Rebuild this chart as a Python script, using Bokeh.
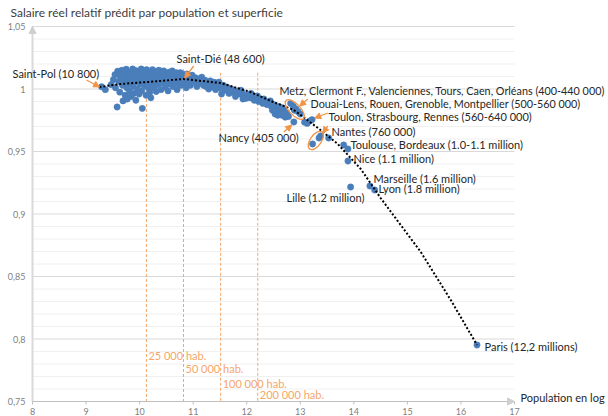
import numpy as np
from bokeh.plotting import figure
from bokeh.models import Arrow, NormalHead, Range1d
from bokeh.core.properties import value
from bokeh.embed import file_html
from bokeh.resources import INLINE

# ---------------- data ----------------
small_x = [9.29, 9.36, 9.47, 9.51, 9.54, 9.55, 9.58, 9.59, 9.61, 9.63, 9.64, 9.67, 9.68,
           9.69, 9.71, 9.72, 9.73, 9.75, 9.76, 9.77, 9.79, 9.80, 9.81, 9.83, 9.84, 9.85,
           9.87, 9.88, 9.89, 9.91, 9.92, 9.93, 9.95, 9.96, 9.97, 9.99, 10.00, 10.01, 10.03,
           10.04, 10.05, 10.06, 10.08, 10.09, 10.11, 10.12, 10.13, 10.15, 10.16, 10.18,
           10.19, 10.21, 10.22, 10.24, 10.25, 10.27, 10.28, 10.30, 10.31, 10.33, 10.35,
           10.36, 10.38, 10.40, 10.41, 10.43, 10.45, 10.46, 10.48, 10.50, 10.52, 10.53,
           10.55, 10.57, 10.59, 10.61, 10.62, 10.64, 10.66, 10.68, 10.70, 10.72, 10.74,
           10.76, 10.78, 10.80, 10.83, 10.85, 10.87, 10.90, 10.92, 10.95, 10.98, 11.01,
           11.04, 11.07, 11.10, 11.13, 11.16, 11.19, 11.22, 11.26, 11.29, 11.32, 11.35,
           11.39, 11.42, 11.46, 11.50, 11.53, 11.56, 11.60, 11.63, 11.67, 11.71, 11.75,
           11.79, 11.83, 11.87, 11.91, 11.95, 11.98, 12.02, 12.06, 12.10, 12.14, 12.18,
           12.22, 12.26, 12.30, 12.34, 12.38, 12.42, 12.46, 12.50, 12.53, 12.55, 12.58,
           12.60, 12.63, 12.66, 12.69, 12.72, 12.75, 12.78,
           9.62, 9.66, 9.70, 9.74, 9.78, 9.82, 9.86, 9.90, 9.94, 9.98, 10.02, 10.07,
           10.10, 10.14, 10.17, 10.20, 10.21, 10.23, 10.26, 10.29, 10.32, 10.37, 10.42,
           10.47, 10.51, 10.56, 10.60, 10.65, 10.69, 10.73, 10.79, 10.84, 10.88, 10.94,
           11.00, 11.06, 11.12, 11.18, 11.24, 11.30, 11.37, 11.44, 11.48, 11.58, 11.65,
           11.73, 11.81, 11.89, 11.93, 12.08, 12.20, 12.32, 12.44, 12.48, 12.52, 12.57,
           12.62, 12.66]
small_y = [1.0018, 0.9995, 1.0035, 1.0075, 1.0115, 1.0010, 0.9856, 1.0142, 1.0060, 0.9975,
           1.0098, 1.0150, 1.0030, 0.9905, 1.0120, 1.0070, 0.9950, 1.0158, 1.0010, 0.9920,
           1.0105, 1.0045, 0.9985, 1.0135, 0.9940, 1.0080, 1.0160, 1.0020, 0.9965, 1.0110,
           1.0055, 0.9910, 1.0145, 1.0000, 1.0085, 0.9960, 1.0125, 1.0040, 1.0160, 0.9985,
           0.9845, 1.0090, 1.0140, 1.0025, 1.0065, 0.9950, 1.0155, 1.0105, 1.0010, 1.0075,
           0.9975, 1.0135, 1.0045, 1.0155, 1.0095, 1.0010, 1.0060, 1.0140, 0.9980, 1.0110,
           1.0035, 1.0150, 1.0075, 0.9995, 1.0120, 1.0050, 1.0145, 1.0090, 1.0015, 1.0125,
           1.0065, 0.9985, 1.0135, 1.0040, 1.0100, 1.0145, 1.0020, 1.0080, 1.0125, 1.0050,
           0.9995, 1.0110, 1.0070, 1.0130, 1.0030, 1.0095, 1.0115, 1.0055, 1.0010, 1.0100,
           1.0075, 1.0030, 1.0110, 1.0060, 1.0090, 1.0020, 1.0080, 1.0050, 1.0095, 1.0030,
           1.0070, 1.0045, 1.0000, 1.0065, 1.0030, 1.0055, 0.9995, 1.0040, 1.0010, 0.9960,
           1.0030, 0.9990, 1.0015, 0.9965, 1.0000, 0.9975, 0.9940, 0.9985, 0.9960, 0.9975,
           0.9945, 0.9925, 0.9955, 0.9930, 0.9945, 0.9910, 0.9930, 0.9900, 0.9915, 0.9885,
           0.9905, 0.9875, 0.9890, 0.9860, 0.9875, 0.9800, 0.9845, 0.9790, 0.9860, 0.9815,
           0.9790, 0.9835, 0.9775, 0.9810, 0.9780,
           1.0120, 1.0085, 1.0140, 1.0095, 1.0125, 1.0060, 1.0110, 1.0150, 1.0070, 1.0130,
           1.0100, 1.0060, 1.0120, 1.0035, 1.0130, 1.0090, 0.9930, 1.0020, 1.0120, 1.0095,
           1.0050, 1.0115, 1.0090, 1.0120, 1.0040, 1.0085, 1.0060, 1.0100, 1.0130, 1.0040,
           1.0060, 1.0085, 1.0120, 1.0055, 1.0080, 1.0055, 1.0070, 1.0060, 1.0020, 1.0040,
           1.0015, 1.0020, 1.0055, 1.0005, 0.9990, 0.9985, 0.9960, 0.9990, 0.9920, 0.9965,
           0.9945, 0.9920, 0.9905, 0.9830, 0.9855, 0.9830, 0.9800, 0.9850]

metz_x = [12.82, 12.87, 12.89, 12.92, 12.96, 13.00]
metz_y = [0.9885, 0.9862, 0.9830, 0.9840, 0.9818, 0.9800]
douai_x = [13.08, 13.13, 13.18, 13.22]
douai_y = [0.9735, 0.9725, 0.9745, 0.9755]
toulon_x = [13.23, 13.35, 13.38]
toulon_y = [0.9560, 0.9608, 0.9624]
city_names = ["Nancy", "Nantes", "Toulouse", "Bordeaux", "Nice", "Lille",
              "Marseille", "Lyon", "Paris"]
city_x = [12.88, 13.53, 13.81, 13.89, 13.89, 13.94, 14.30, 14.39, 16.30]
city_y = [0.9736, 0.9608, 0.9552, 0.9520, 0.9424, 0.9216, 0.9224, 0.9192, 0.7952]

trend_x = [9.25, 9.64, 10.15, 10.82, 11.51, 12.07, 12.45, 12.88, 13.33,
           13.70, 14.13, 14.50, 15.25, 15.81, 16.30]
trend_y = [1.0016, 1.0040, 1.0056, 1.0080, 1.0048, 0.9976, 0.9904, 0.9832, 0.9688,
           0.9560, 0.9360, 0.9128, 0.8696, 0.8312, 0.7952]

hab_values = [25000, 50000, 100000, 200000]
hab_labels = ["25 000 hab.", "50 000 hab.", "100 000 hab.", "200 000 hab."]

y_ticks = [0.75, 0.80, 0.85, 0.90, 0.95, 1.00, 1.05]
y_tick_labels = ["0,75", "0,8", "0,85", "0,9", "0,95", "1", "1,05"]
x_ticks = [8, 9, 10, 11, 12, 13, 14, 15, 16, 17]
x_tick_labels = [str(t) for t in x_ticks]
y_minor = [0.76, 0.77, 0.78, 0.79, 0.81, 0.82, 0.83, 0.84, 0.86, 0.87, 0.88, 0.89,
           0.91, 0.92, 0.93, 0.94, 0.96, 0.97, 0.98, 0.99, 1.01, 1.02, 1.03, 1.04]

# ---------------- layout ----------------
FONT = "Lato"
BLUE = "#4A7EBB"
ORANGE = "#F29446"
ORANGE_LIGHT = "#F5A66A"
TXT = "#262626"

W, H = 608, 416
XMIN, XMAX, YMIN, YMAX = 8, 17, 0.75, 1.05
PL, PR, PT, PB = 32, 514, 26, 401          # plot area in pixels
PXU = (PR - PL) / (XMAX - XMIN)
PYU = (PB - PT) / (YMAX - YMIN)


def dx(px):
    return XMIN + (px - PL) / PXU


def dy(py):
    return YMAX - (py - PT) / PYU


p = figure(width=W, height=H, x_range=Range1d(dx(0), dx(W)), y_range=Range1d(dy(H), dy(0)),
           output_backend="svg", toolbar_location=None,
           x_axis_location=None, y_axis_location=None,
           min_border=0, outline_line_color=None)
p.grid.visible = False

# grid
p.segment(x0=[XMIN] * len(y_minor), y0=y_minor, x1=[XMAX] * len(y_minor), y1=y_minor,
          line_color="#F0F0F0", line_width=1)
p.segment(x0=[XMIN] * len(y_ticks), y0=y_ticks, x1=[XMAX] * len(y_ticks), y1=y_ticks,
          line_color="#D9D9D9", line_width=1)

# threshold dashed lines
hab_x = list(np.log(hab_values))
hab_top = [1.016, 1.016, 1.013, 1.013]
p.segment(x0=hab_x, y0=hab_top, x1=hab_x, y1=[YMIN] * 4,
          line_color=ORANGE_LIGHT, line_width=1, line_dash="3 2")
hab_label_y = [0.7872, 0.7768, 0.7648, 0.7560]
p.text(x=hab_x, y=hab_label_y, text=hab_labels, x_offset=2,
       text_font=value(FONT), text_font_size="11px", text_color=ORANGE_LIGHT,
       text_baseline="middle", text_align="left")

# axes
p.segment(x0=[XMIN], y0=[YMIN], x1=[XMIN], y1=[YMAX], line_color="#D9D9D9", line_width=2)
p.segment(x0=[XMIN], y0=[YMIN], x1=[XMAX], y1=[YMIN], line_color="#BFBFBF", line_width=1)
p.segment(x0=x_ticks, y0=[YMIN] * len(x_ticks), x1=x_ticks, y1=[dy(PB + 3)] * len(x_ticks),
          line_color="#BFBFBF", line_width=1)
p.text(x=[dx(25)] * len(y_ticks), y=y_ticks, text=y_tick_labels,
       text_font=value(FONT), text_font_size="9px", text_color="#7F7F7F",
       text_baseline="middle", text_align="right")
p.text(x=x_ticks, y=[dy(411)] * len(x_ticks), text=x_tick_labels,
       text_font=value(FONT), text_font_size="9px", text_color="#7F7F7F",
       text_baseline="middle", text_align="center")
p.add_layout(Arrow(end=NormalHead(size=7, fill_color="#CFCFCF", line_color="#CFCFCF"),
                   x_start=XMIN, y_start=dy(PT + 8), x_end=XMIN, y_end=YMAX,
                   line_color="#D9D9D9", line_width=2))
p.add_layout(Arrow(end=NormalHead(size=7, fill_color="#CFCFCF", line_color="#CFCFCF"),
                   x_start=dx(PR - 8), y_start=YMIN, x_end=XMAX, y_end=YMIN,
                   line_color="#BFBFBF", line_width=1))

# points
all_x = small_x + metz_x + douai_x + toulon_x + city_x
all_y = small_y + metz_y + douai_y + toulon_y + city_y
p.scatter(all_x, all_y, size=6.3, fill_color=BLUE, line_color=BLUE, line_width=0.5)

# trend
p.line(trend_x, trend_y, line_color="black", line_width=2, line_dash="2 2")

# ellipses
p.ellipse(x=[12.897, 13.29], y=[0.9836, 0.9588], width=[25, 21], height=[11, 11],
          angle=[-0.8, 0.95], width_units="screen", height_units="screen",
          fill_color=None, line_color=ORANGE, line_width=1.3)

# annotation arrows
arrows = [((9.009, 1.0072), (9.252, 1.0016)),
          ((11.009, 1.0184), (10.841, 1.0088)),
          ((13.14, 0.9920), (12.99, 0.9864)),
          ((13.514, 0.9808), (13.271, 0.9768)),
          ((13.514, 0.9704), (13.421, 0.9648)),
          ((12.692, 0.9656), (12.841, 0.9712))]
for (xs, ys), (xe, ye) in arrows:
    p.add_layout(Arrow(end=NormalHead(size=6, fill_color=ORANGE, line_color=ORANGE),
                       x_start=xs, y_start=ys, x_end=xe, y_end=ye,
                       line_color=ORANGE, line_width=1.3))

# labels
label_texts = ["Saint-Pol (10 800)", "Saint-Dié (48 600)",
               "Metz, Clermont F., Valenciennes, Tours, Caen, Orléans (400-440 000)",
               "Douai-Lens, Rouen, Grenoble, Montpellier (500-560 000)",
               "Toulon, Strasbourg, Rennes (560-640 000)", "Nantes (760 000)",
               "Toulouse, Bordeaux (1.0-1.1 million)", "Nice (1.1 million)",
               "Marseille (1.6 million)", "Lyon (1.8 million)", "Lille (1.2 million)",
               "Nancy (405 000)", "Paris (12,2 millions)", "Population en log"]
label_px = [12, 176, 279, 310, 328, 331, 350, 353, 373, 378, 286, 218, 484, 520]
label_py = [73, 58, 90, 103, 116, 131, 144, 158, 178, 188, 197, 137, 346, 397]
label_size = ["11px"] * len(label_texts)
label_size[2] = "10.8px"
label_size[3] = "10.8px"
p.text(x=[dx(v) for v in label_px], y=[dy(v) for v in label_py], text=label_texts,
       text_font=value(FONT), text_font_size=label_size, text_color=TXT,
       text_baseline="middle", text_align="left")

p.text(x=[dx(10)], y=[dy(12)], text=["Salaire réel relatif prédit par population et superficie"],
       text_font=value(FONT), text_font_size="12px", text_color="#404040",
       text_baseline="middle", text_align="left")

open("out.html", "w").write(file_html(p, INLINE))
